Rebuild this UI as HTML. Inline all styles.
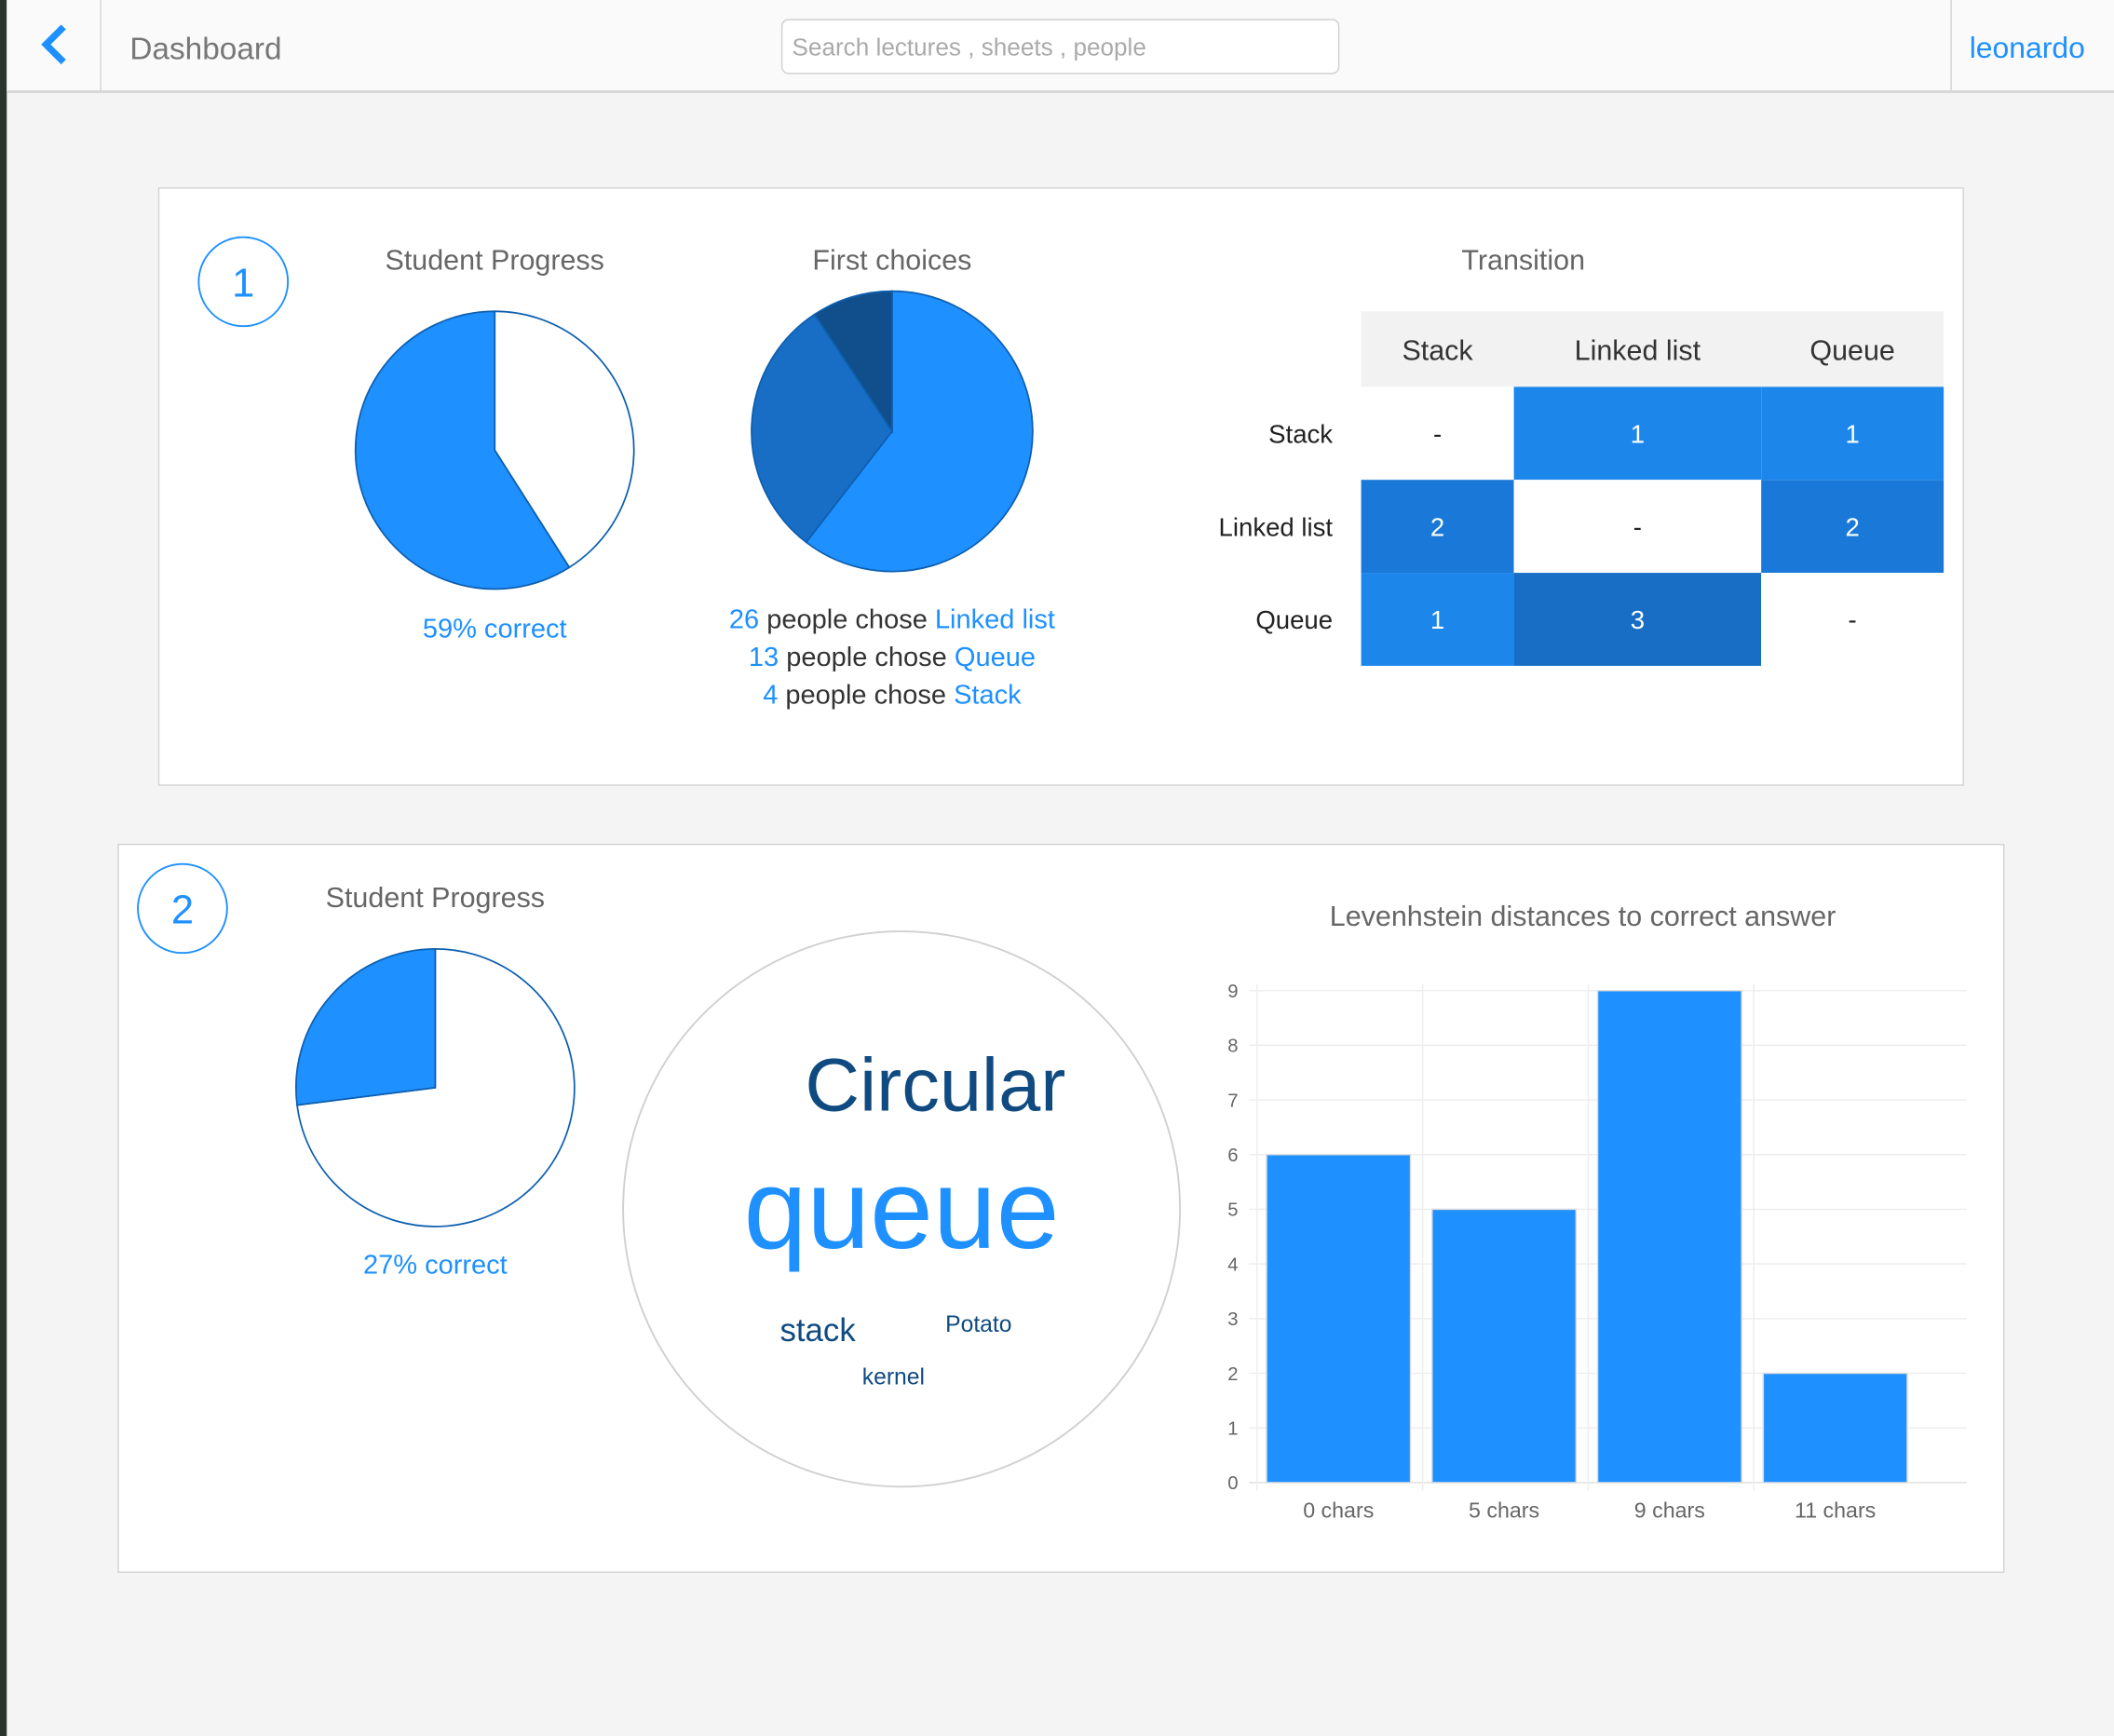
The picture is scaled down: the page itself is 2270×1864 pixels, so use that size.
<!DOCTYPE html>
<html><head><meta charset="utf-8">
<style>
html,body{margin:0;padding:0;background:#f4f4f4;}
svg{display:block;font-family:"Liberation Sans",sans-serif;}
</style></head>
<body>
<svg id="s" width="2270" height="1864" viewBox="0 0 1564 1288" preserveAspectRatio="none" xmlns="http://www.w3.org/2000/svg">
<rect x="0" y="0" width="1564" height="1288" fill="#f4f4f4"/>
<rect x="0" y="0" width="5" height="1288" fill="#2b3530"/>
<g>
<rect x="5" y="0" width="1559" height="68" fill="#fafafa"/>
<rect x="5" y="67" width="1559" height="2" fill="#d6d6d6"/>
<line x1="74.5" y1="0" x2="74.5" y2="68" stroke="#d6d6d6"/>
<line x1="1443.5" y1="0" x2="1443.5" y2="68" stroke="#d6d6d6"/>
<path d="M47 20 L34 33 L47 46" fill="none" stroke="#1e90ff" stroke-width="5"/>
<text x="96" y="44" font-size="23" fill="#777">Dashboard</text>
<rect x="578.5" y="14.5" width="412" height="40" rx="5" fill="#fff" stroke="#d0d0d0"/>
<text x="586" y="41" font-size="18" fill="#aaa">Search lectures , sheets , people</text>
<text x="1457" y="43" font-size="22" fill="#1e90ff">leonardo</text>
</g>
<g>
<rect x="117.5" y="139.5" width="1335" height="443" fill="#fff" stroke="#d4d4d4"/>
<circle cx="180" cy="209" r="33" fill="none" stroke="#1e90ff" stroke-width="1.3"/>
<text x="180" y="220" font-size="30" fill="#1e90ff" text-anchor="middle">1</text>
<text x="366" y="200" font-size="21" fill="#666" text-anchor="middle">Student Progress</text>
<g id="pie1"></g>
<text x="366" y="473" font-size="20" fill="#1e90ff" text-anchor="middle">59% correct</text>
<text x="660" y="200" font-size="21" fill="#666" text-anchor="middle">First choices</text>
<g id="pie2"></g>
<text x="660" y="466" font-size="20" text-anchor="middle" fill="#333"><tspan fill="#1e90ff">26</tspan> people chose <tspan fill="#1e90ff">Linked list</tspan></text>
<text x="660" y="494" font-size="20" text-anchor="middle" fill="#333"><tspan fill="#1e90ff">13</tspan> people chose <tspan fill="#1e90ff">Queue</tspan></text>
<text x="660" y="522" font-size="20" text-anchor="middle" fill="#333"><tspan fill="#1e90ff">4</tspan> people chose <tspan fill="#1e90ff">Stack</tspan></text>
<text x="1127" y="200" font-size="21" fill="#666" text-anchor="middle">Transition</text>
<g id="table"></g>
</g>
<g>
<rect x="87.5" y="626.5" width="1395" height="540" fill="#fff" stroke="#d4d4d4"/>
<circle cx="135" cy="674" r="33" fill="none" stroke="#1e90ff" stroke-width="1.3"/>
<text x="135" y="685" font-size="30" fill="#1e90ff" text-anchor="middle">2</text>
<text x="322" y="673" font-size="21" fill="#666" text-anchor="middle">Student Progress</text>
<g id="pie3"></g>
<text x="322" y="945" font-size="20" fill="#1e90ff" text-anchor="middle">27% correct</text>
<g>
<circle cx="667" cy="897" r="206" fill="#fff" stroke="#d0d0d0" stroke-width="1.3"/>
<text x="692" y="824" font-size="56" fill="#0f4a80" text-anchor="middle">Circular</text>
<text x="667" y="926" font-size="84" fill="#1e90ff" text-anchor="middle">queue</text>
<text x="605" y="995" font-size="24" fill="#0f4a80" text-anchor="middle">stack</text>
<text x="724" y="988" font-size="17" fill="#0f4a80" text-anchor="middle">Potato</text>
<text x="661" y="1027" font-size="17" fill="#0f4a80" text-anchor="middle">kernel</text>
</g>
<text x="1171" y="687" font-size="21" fill="#666" text-anchor="middle">Levenhstein distances to correct answer</text>
<g id="bars"></g>
</g>
</svg>
<script>
const NS="http://www.w3.org/2000/svg";
function mk(tag,attrs,parent){const e=document.createElementNS(NS,tag);for(const k in attrs)e.setAttribute(k,attrs[k]);parent.appendChild(e);return e;}

// Pie data
const pie1Labels=["incorrect","correct"];
const pie1Values=[41,59];
const pie2Labels=["Linked list","Queue","Stack"];
const pie2Values=[26,13,4];
const pie3Labels=["incorrect","correct"];
const pie3Values=[73,27];
// Transition matrix
const transCats=["Stack","Linked list","Queue"];
const transValues=[[null,1,1],[2,null,2],[1,3,null]];
// Bar chart
const barCats=["0 chars","5 chars","9 chars","11 chars"];
const barValues=[6,5,9,2];
const yTicks=[0,1,2,3,4,5,6,7,8,9];

function pie(gid,cx,cy,r,labels,values,colors,name){
  const g=document.getElementById(gid);
  const tot=values.reduce((a,b)=>a+b,0);
  let a=0;
  values.forEach((v,i)=>{
    const a0=a/tot*2*Math.PI, a1=(a+v)/tot*2*Math.PI; a+=v;
    const x0=cx+r*Math.sin(a0),y0=cy-r*Math.cos(a0),x1=cx+r*Math.sin(a1),y1=cy-r*Math.cos(a1);
    const large=(a1-a0)>Math.PI?1:0;
    const p=mk("path",{d:`M${cx} ${cy} L${x0} ${y0} A${r} ${r} 0 ${large} 1 ${x1} ${y1} Z`,fill:colors[i],stroke:"#0d5fb0","stroke-width":1.2},g);
    
    
  });
}
pie("pie1",366,334,103,pie1Labels,pie1Values,["#ffffff","#1e90ff"],"progress-pie-1");
pie("pie2",660,320,104,pie2Labels,pie2Values,["#1e90ff","#176ec4","#114f8c"],"first-choices-pie");
pie("pie3",322,807,103,pie3Labels,pie3Values,["#ffffff","#1e90ff"],"progress-pie-2");

// Table
(function(){
  const g=document.getElementById("table");
  const colX=[1007,1120,1303,1438];
  const rowY=[287,356,425,494];
  const cc=["#ffffff","#1c86ea","#1a79d8","#176ec4"];
  const hdr=mk("rect",{x:1007,y:231,width:431,height:56,fill:"#f2f2f2"},g);
  
  
  transCats.forEach((c,j)=>{
    const t=mk("text",{x:(colX[j]+colX[j+1])/2,y:267,"font-size":21,fill:"#333","text-anchor":"middle"},g);
    t.textContent=c;
    
    
  });
  transCats.forEach((c,i)=>{
    const t=mk("text",{x:986,y:(rowY[i]+rowY[i+1])/2+7,"font-size":19,fill:"#222","text-anchor":"end"},g);
    t.textContent=c;
    
    
    transValues[i].forEach((v,j)=>{
      const r=mk("rect",{x:colX[j],y:rowY[i],width:colX[j+1]-colX[j],height:rowY[i+1]-rowY[i],fill:v==null?"#fff":cc[Math.min(v,3)]},g);
      
      
      const t2=mk("text",{x:(colX[j]+colX[j+1])/2,y:(rowY[i]+rowY[i+1])/2+7,"font-size":19,fill:v==null?"#222":"#fff","text-anchor":"middle"},g);
      t2.textContent=v==null?"-":String(v);
      
      
    });
  });
})();

// Bars
(function(){
  const g=document.getElementById("bars");
  const x0=930,x1=1455,y0=1100,yTop=735,yMax=9,cw=122.5;
  const ys=v=>y0-(v/yMax)*(y0-yTop);
  const xs=i=>x0+i*cw;
  yTicks.forEach(t=>{
    const l=mk("line",{x1:x0-6,x2:x1,y1:ys(t),y2:ys(t),stroke:t===0?"#ddd":"#eeeeee","stroke-width":1},g);
    
    
    const tx=mk("text",{x:916,y:ys(t)+5,"font-size":14,fill:"#666","text-anchor":"end"},g);
    tx.textContent=t;
    
    
  });
  barCats.forEach((c,i)=>{
    const l=mk("line",{x1:xs(i),x2:xs(i),y1:730,y2:1106,stroke:"#eeeeee"},g);
    
    
  });
  barCats.forEach((c,i)=>{
    const b=mk("rect",{x:xs(i)+7,y:ys(barValues[i]),width:cw-16,height:y0-ys(barValues[i]),fill:"#1e90ff",stroke:"#dcdcdc","stroke-width":1},g);
    
    
    const t=mk("text",{x:xs(i)+cw/2-1,y:1126,"font-size":16,fill:"#666","text-anchor":"middle"},g);
    t.textContent=c;
    
    
  });
})();
</script>
</body></html>
